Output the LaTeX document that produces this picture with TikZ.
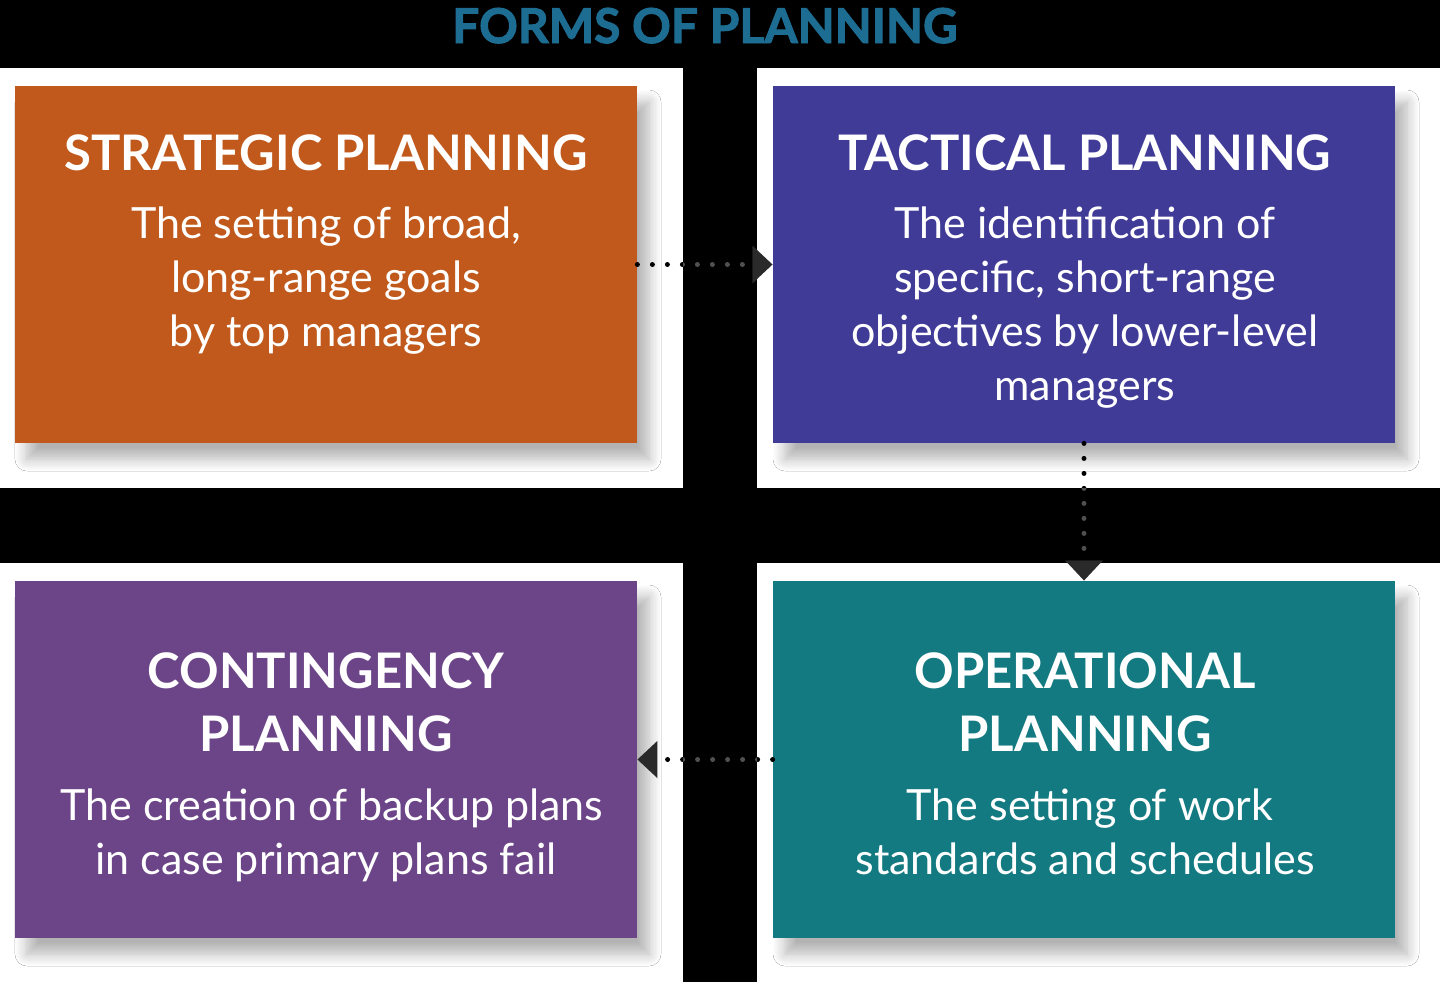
\documentclass[tikz,border=0pt]{standalone}
\usepackage{fontspec}
\setmainfont{Lato}
\newfontfamily\titlefont[BoldFeatures={FakeBold=2}]{Lato}
\usetikzlibrary{arrows.meta,shadows.blur}
\definecolor{stratc}{HTML}{C0591B}
\definecolor{tactc}{HTML}{403B97}
\definecolor{contc}{HTML}{6B4587}
\definecolor{operc}{HTML}{147A81}
\definecolor{titlec}{HTML}{1D6D93}
\definecolor{tipc}{HTML}{2A2A2A}
\definecolor{dotgray}{HTML}{505050}
\tikzset{
  box/.style={rectangle, minimum width=311pt, minimum height=178.5pt, inner sep=0pt,
    blur shadow={shadow xshift=6pt, shadow yshift=-8pt, shadow blur radius=6pt,
      shadow blur steps=12, shadow opacity=30}},
  head/.style={anchor=base, inner sep=0pt, text=white, font=\bfseries\fontsize{24.5}{29}\selectfont},
  body/.style={anchor=base, inner sep=0pt, text=white, font=\fontsize{21.5}{27}\selectfont},
  conn/.style={draw=black, line width=2.5pt, dash pattern=on 0pt off 7.5pt, line cap=round,
    -{Triangle[length=10pt, width=18pt, color=tipc, line cap=butt, line join=miter]}},
  bar/.style={fill=black, draw=none}
}
\begin{document}
\begin{tikzpicture}[x=0.5pt, y=-0.5pt]
\useasboundingbox (0,0) rectangle (1440,982);
\fill[white] (0,0) rectangle (1440,982);
% black bars
\fill[bar] (0,0) rectangle (1440,68);
\fill[bar] (683,0) rectangle (757,982);
\fill[bar] (0,488) rectangle (1440,563);
% title
\node[anchor=base, inner sep=0pt, text=titlec, font=\titlefont\bfseries\fontsize{24}{29}\selectfont] (title) at (705,43) {FORMS OF PLANNING};
% boxes
\node[box, fill=stratc] (s) at (326,264.5) {};
\node[box, fill=tactc]  (t) at (1084,264.5) {};
\node[box, fill=contc]  (c) at (326,759.5) {};
\node[box, fill=operc]  (o) at (1084,759.5) {};
% connectors
\draw[conn] (s.east) -- (t.west);
\draw[conn] (t.south) -- (o.north);
\draw[conn] (o.west) -- (c.east);
\begin{scope}
  \clip (683,68) rectangle (757,982);
  \draw[conn, draw=dotgray] (s.east) -- (t.west);
  \draw[conn, draw=dotgray] (o.west) -- (c.east);
\end{scope}
\begin{scope}
  \clip (0,488) rectangle (1440,563);
  \draw[conn, draw=dotgray] (t.south) -- (o.north);
\end{scope}
% strategic text
\node[head] (sh) at (326,170) {STRATEGIC PLANNING};
\node[body] (s1) at (326,238) {The setting of broad,};
\node[body] (s2) at (326,292) {long-range goals};
\node[body] (s3) at (326,346) {by top managers};
% tactical text
\node[head] (th) at (1085,170) {TACTICAL PLANNING};
\node[body] (t1) at (1085,238) {The identification of};
\node[body] (t2) at (1085,292) {specific, short-range};
\node[body] (t3) at (1085,346) {objectives by lower-level};
\node[body] (t4) at (1085,400) {managers};
% contingency text
\node[head] (ch1) at (326,688) {CONTINGENCY};
\node[head] (ch2) at (326,751) {PLANNING};
\node[body] (c1) at (332,820) {The creation of backup plans};
\node[body] (c2) at (326,874) {in case primary plans fail};
% operational text
\node[head] (oh1) at (1085,688) {OPERATIONAL};
\node[head] (oh2) at (1085,751) {PLANNING};
\node[body] (o1) at (1090,820) {The setting of work};
\node[body] (o2) at (1085,874) {standards and schedules};
\end{tikzpicture}
\end{document}
